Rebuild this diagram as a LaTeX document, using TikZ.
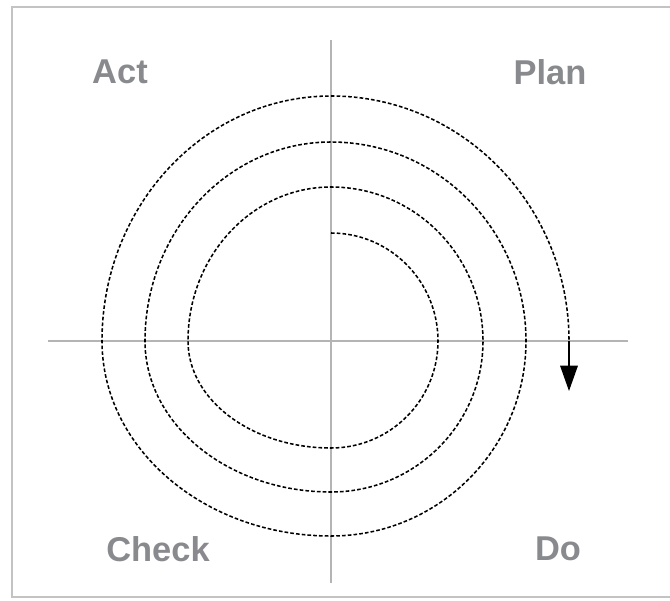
\documentclass[tikz,border=0pt]{standalone}
\usepackage{fontspec}
\setmainfont{Liberation Sans}
\usetikzlibrary{arrows.meta}
\definecolor{labelgray}{RGB}{136,138,142}
\definecolor{axisgray}{RGB}{180,180,180}
\definecolor{framegray}{RGB}{195,195,195}
\tikzset{
  phase/.style={text=labelgray, font=\fontsize{24.5}{28}\selectfont\bfseries},
  spiral/.style={line width=1.1pt, dash pattern=on 2.6pt off 1.5pt},
}
\begin{document}
\begin{tikzpicture}[x=0.25mm, y=0.25mm]
    \useasboundingbox (-331,-259) rectangle (339,341);

    % Marco de la figura
    \draw[framegray, line width=1.4pt] (345,334) -- (-319,334) -- (-319,-256) -- (345,-256);

    % Ejes
    \draw[axisgray, line width=1pt] (-283,0) -- (297,0);
    \draw[axisgray, line width=1pt] (0,301) -- (0,-242);

    % Espiral (cuartos de elipse alrededor del origen)
    \draw[spiral] (0,108)
        foreach \a/\rx/\ry in {90/107/108, 0/107/107, -90/143/107, 180/143/154,
                               90/152/154, 0/152/151, -90/186/151, 180/186/199,
                               90/195/199, 0/195/195, -90/229/195, 180/229/245,
                               90/238/245} {
            arc[start angle=\a, delta angle=-90, x radius=\rx, y radius=\ry]
        } coordinate (end);

    % Flecha final
    \coordinate (tip) at (238,-50);
    \draw[line width=1pt, -{Triangle[length=18pt,width=12.5pt]}] (end) -- (tip);

    % Etiquetas de las fases
    \node[phase] (act) at (-211,269) {Act};
    \node[phase] (plan) at (219,269) {Plan};
    \node[phase] (check) at (-173,-208) {Check};
    \node[phase] (do) at (227,-208) {Do};

\end{tikzpicture}
\end{document}
